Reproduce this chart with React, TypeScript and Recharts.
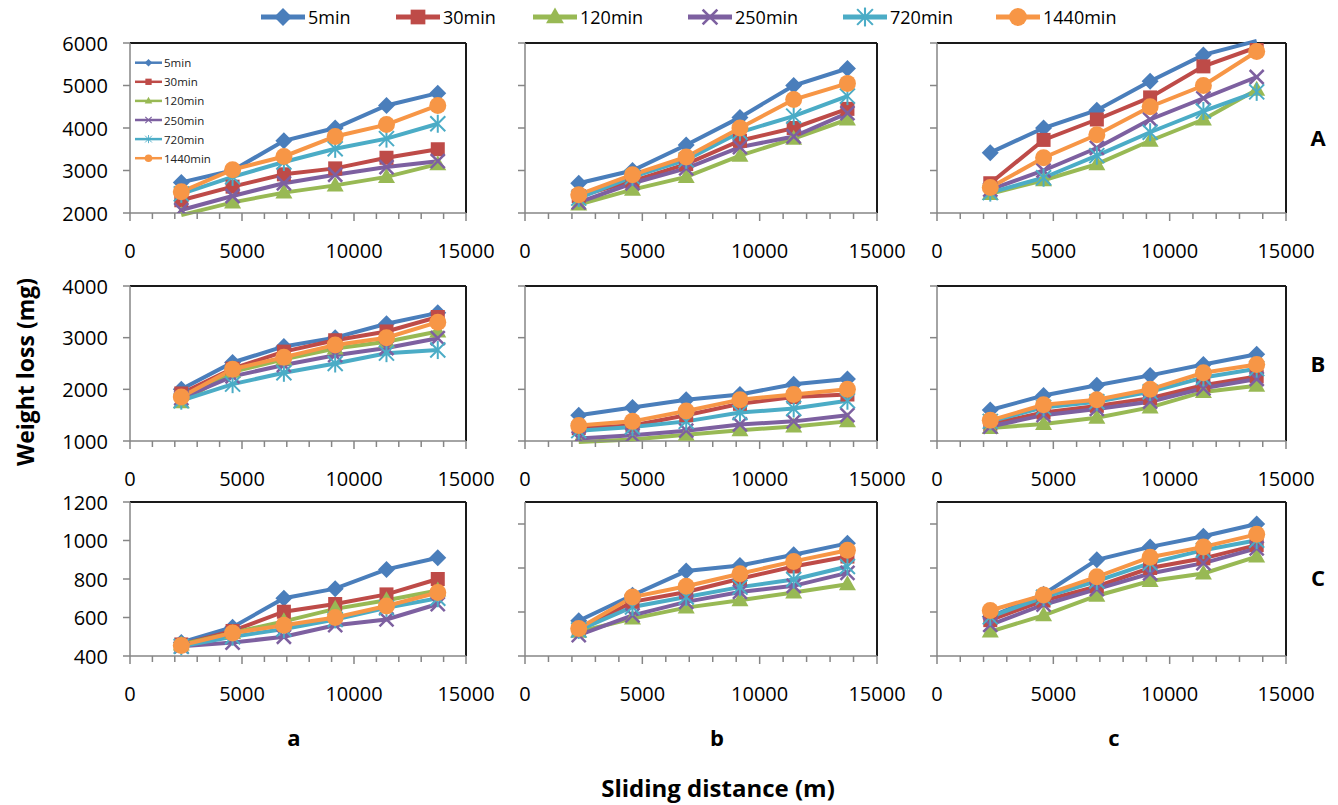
import React from "react";
import { LineChart, Line, XAxis, YAxis, ReferenceLine } from "recharts";

// sliding distance (m) at which each run was weighed
const DIST = [2290, 4580, 6870, 9160, 11450, 13740];
const SERIES = ["5min", "30min", "120min", "250min", "720min", "1440min"];
const COLORS = ["#4A7EBB", "#BE4B48", "#98B954", "#7D60A0", "#4BACC6", "#F79646"];
const SHAPES = ["diamond", "square", "triangle", "cross", "star", "circle"];
const X_TICKS = [0, 1000, 2000, 3000, 4000, 5000, 6000, 7000, 8000, 9000, 10000, 11000, 12000, 13000, 14000, 15000];

// weight loss (mg), one row per series in SERIES order
const A_a = [
  [2720, 3000, 3700, 4000, 4530, 4820],
  [2300, 2620, 2910, 3050, 3300, 3500],
  [1950, 2250, 2480, 2650, 2850, 3150],
  [2070, 2400, 2700, 2900, 3080, 3220],
  [2450, 2850, 3200, 3510, 3750, 4100],
  [2500, 3020, 3330, 3800, 4080, 4530],
];
const A_b = [
  [2700, 3000, 3600, 4250, 5000, 5400],
  [2400, 2750, 3150, 3700, 4000, 4450],
  [2200, 2550, 2850, 3350, 3750, 4200],
  [2250, 2700, 3050, 3550, 3800, 4350],
  [2350, 2850, 3250, 3900, 4280, 4750],
  [2430, 2900, 3320, 4000, 4670, 5050],
];
const A_c = [
  [3420, 4000, 4420, 5100, 5720, 6050],
  [2700, 3720, 4200, 4720, 5450, 5900],
  [2450, 2770, 3150, 3700, 4200, 4900],
  [2550, 3000, 3530, 4200, 4700, 5200],
  [2480, 2830, 3350, 3900, 4400, 4850],
  [2600, 3300, 3840, 4500, 5000, 5800],
];
const B_a = [
  [2000, 2520, 2830, 3000, 3270, 3480],
  [1920, 2400, 2730, 2950, 3120, 3400],
  [1750, 2340, 2580, 2790, 2920, 3120],
  [1830, 2250, 2470, 2660, 2800, 2990],
  [1780, 2100, 2320, 2500, 2700, 2760],
  [1850, 2390, 2620, 2860, 3000, 3300],
];
const B_b = [
  [1500, 1650, 1800, 1900, 2100, 2200],
  [1250, 1300, 1500, 1720, 1850, 1900],
  [980, 1030, 1120, 1210, 1280, 1380],
  [1050, 1110, 1200, 1320, 1380, 1500],
  [1200, 1270, 1380, 1550, 1630, 1780],
  [1300, 1380, 1580, 1800, 1900, 2000],
];
const B_c = [
  [1600, 1880, 2080, 2270, 2480, 2680],
  [1330, 1550, 1680, 1830, 2080, 2250],
  [1250, 1330, 1450, 1650, 1950, 2070],
  [1280, 1500, 1620, 1760, 2020, 2200],
  [1380, 1650, 1760, 1950, 2230, 2400],
  [1400, 1700, 1800, 2000, 2320, 2480],
];
const C_a = [
  [470, 550, 700, 750, 850, 910],
  [460, 530, 630, 670, 720, 800],
  [460, 520, 580, 645, 690, 740],
  [450, 470, 500, 560, 590, 670],
  [450, 500, 540, 590, 650, 700],
  [455, 520, 560, 600, 660, 730],
];
const C_b = [
  [560, 676, 786, 811, 860, 912],
  [518, 646, 691, 751, 807, 852],
  [510, 570, 620, 653, 689, 726],
  [495, 585, 646, 691, 719, 778],
  [518, 623, 668, 713, 748, 807],
  [525, 668, 717, 774, 830, 881],
];
const C_c = [
  [578, 681, 837, 896, 944, 1000],
  [563, 652, 716, 800, 844, 904],
  [511, 585, 674, 741, 775, 852],
  [541, 633, 704, 775, 822, 889],
  [578, 667, 741, 822, 881, 926],
  [607, 677, 760, 849, 896, 953],
];

const Y_A = [2000, 3000, 4000, 5000, 6000];
const Y_B = [1000, 2000, 3000, 4000];
const Y_C = [400, 600, 800, 1000, 1200];
const Y_C2 = [400, 600, 800, 1000];

const FONT = "'Open Sans', sans-serif";
const AXIS = "#868686";

function Marker({ shape, cx, cy, color, s = 1 }: any) {
  switch (shape) {
    case "diamond": {
      const h = 8.5 * s;
      return <polygon points={`${cx},${cy - h} ${cx + h},${cy} ${cx},${cy + h} ${cx - h},${cy}`} fill={color} />;
    }
    case "square": {
      const h = 7 * s;
      return <rect x={cx - h} y={cy - h} width={2 * h} height={2 * h} fill={color} />;
    }
    case "triangle":
      return (
        <polygon
          points={`${cx},${cy - 9 * s} ${cx + 8.5 * s},${cy + 6 * s} ${cx - 8.5 * s},${cy + 6 * s}`}
          fill={color}
        />
      );
    case "cross": {
      const h = 7 * s;
      return (
        <g stroke={color} strokeWidth={2.5 * s}>
          <line x1={cx - h} y1={cy - h} x2={cx + h} y2={cy + h} />
          <line x1={cx - h} y1={cy + h} x2={cx + h} y2={cy - h} />
        </g>
      );
    }
    case "star": {
      const h = 7.5 * s;
      return (
        <g stroke={color} strokeWidth={2 * s}>
          <line x1={cx - h} y1={cy - h} x2={cx + h} y2={cy + h} />
          <line x1={cx - h} y1={cy + h} x2={cx + h} y2={cy - h} />
          <line x1={cx} y1={cy - h * 1.2} x2={cx} y2={cy + h * 1.2} />
        </g>
      );
    }
    default:
      return <circle cx={cx} cy={cy} r={8.5 * s} fill={color} />;
  }
}

const makeDot = (k: number) => (p: any) => {
  if (p.cx == null || p.cy == null) return <g key={`d${k}-${p.index}`} />;
  return <Marker key={`d${k}-${p.index}`} shape={SHAPES[k]} cx={p.cx} cy={p.cy} color={COLORS[k]} />;
};

const XTick = (p: any) => {
  const v = p.payload.value;
  const major = v % 5000 === 0;
  return (
    <g>
      <line x1={p.x} x2={p.x} y1={p.y} y2={p.y + (major ? 8 : 6)} stroke={AXIS} strokeWidth={1.5} />
      {major && (
        <text x={p.x} y={p.y + 37} textAnchor="middle" dominantBaseline="central" fontFamily={FONT} fontSize={20} fill="#000">
          {v}
        </text>
      )}
    </g>
  );
};

const makeYTick = (labels: boolean) => (p: any) => (
  <g>
    <line x1={p.x - 7} x2={p.x} y1={p.y} y2={p.y} stroke={AXIS} strokeWidth={1.5} />
    {labels && (
      <text x={p.x - 22} y={p.y} textAnchor="end" dominantBaseline="central" fontFamily={FONT} fontSize={20} fill="#000">
        {p.payload.value}
      </text>
    )}
  </g>
);

const ML = 90;
const MT = 14;
const MR = 42;
const XH = 52;

function Panel({ data, left, top, width, height, ticks, max, labels }: any) {
  const rows = DIST.map((d, i) => {
    const r: any = { d };
    data.forEach((s: number[], k: number) => (r["s" + k] = s[i]));
    return r;
  });
  return (
    <div style={{ position: "absolute", left: left - ML, top: top - MT }}>
      <LineChart width={width + ML + MR} height={height + MT + XH} data={rows} margin={{ top: MT, right: MR, left: 0, bottom: 0 }}>
        <XAxis
          dataKey="d"
          type="number"
          domain={[0, 15000]}
          ticks={X_TICKS}
          interval={0}
          height={XH}
          tickSize={0}
          tickMargin={0}
          axisLine={{ stroke: AXIS, strokeWidth: 1.5 }}
          tick={XTick}
          allowDataOverflow
        />
        <YAxis
          type="number"
          domain={[ticks[0], max]}
          ticks={ticks}
          interval={0}
          width={ML}
          tickSize={0}
          tickMargin={0}
          axisLine={{ stroke: AXIS, strokeWidth: 1.5 }}
          tick={makeYTick(labels)}
          allowDataOverflow
        />
        <ReferenceLine y={max} stroke="#1a1a1a" strokeWidth={2} />
        <ReferenceLine x={15000} stroke="#1a1a1a" strokeWidth={2} />
        {SERIES.map((name, k) => (
          <Line
            key={name}
            dataKey={"s" + k}
            name={name}
            stroke={COLORS[k]}
            strokeWidth={4}
            dot={makeDot(k)}
            activeDot={false}
            isAnimationActive={false}
          />
        ))}
      </LineChart>
    </div>
  );
}

const COLS = [
  { x: 130, w: 336 },
  { x: 525, w: 352 },
  { x: 937, w: 349 },
];
const ROWS = [
  { y: 43, h: 170 },
  { y: 286, h: 155 },
  { y: 502, h: 154 },
];

const PANELS = [
  { data: A_a, r: 0, c: 0, ticks: Y_A, max: 6000 },
  { data: A_b, r: 0, c: 1, ticks: Y_A, max: 6000 },
  { data: A_c, r: 0, c: 2, ticks: Y_A, max: 6000 },
  { data: B_a, r: 1, c: 0, ticks: Y_B, max: 4000 },
  { data: B_b, r: 1, c: 1, ticks: Y_B, max: 4000 },
  { data: B_c, r: 1, c: 2, ticks: Y_B, max: 4000 },
  { data: C_a, r: 2, c: 0, ticks: Y_C, max: 1200 },
  { data: C_b, r: 2, c: 1, ticks: Y_C2, max: 1100 },
  { data: C_c, r: 2, c: 2, ticks: Y_C2, max: 1100 },
];

const LEGEND_X = [283, 418, 555, 710, 865, 1018];

export default function App() {
  return (
    <div style={{ position: "absolute", left: 0, top: 0, width: 1338, height: 805, background: "#fff", overflow: "hidden" }}>
      <style>{`.recharts-line[clip-path], .recharts-line [clip-path] { clip-path: none !important; }`}</style>
      {PANELS.map((p, i) => (
        <Panel
          key={i}
          data={p.data}
          left={COLS[p.c].x}
          top={ROWS[p.r].y}
          width={COLS[p.c].w}
          height={ROWS[p.r].h}
          ticks={p.ticks}
          max={p.max}
          labels={p.c === 0}
        />
      ))}
      <svg width={1338} height={805} style={{ position: "absolute", left: 0, top: 0, pointerEvents: "none" }}>
        {/* top legend */}
        {SERIES.map((name, k) => (
          <g key={name}>
            <line x1={LEGEND_X[k] - 22} x2={LEGEND_X[k] + 22} y1={17} y2={17} stroke={COLORS[k]} strokeWidth={5} />
            <Marker shape={SHAPES[k]} cx={LEGEND_X[k]} cy={17} color={COLORS[k]} s={1.05} />
            <text x={LEGEND_X[k] + 25} y={17} dominantBaseline="central" fontFamily={FONT} fontSize={18} fill="#000">
              {name}
            </text>
          </g>
        ))}
        {/* small legend inside panel A-a */}
        {SERIES.map((name, k) => {
          const y = 62.7 + k * 19.1;
          return (
            <g key={"in" + name}>
              <line x1={135} x2={162} y1={y} y2={y} stroke={COLORS[k]} strokeWidth={2.5} />
              <Marker shape={SHAPES[k]} cx={148.5} cy={y} color={COLORS[k]} s={0.45} />
              <text x={164} y={y} dominantBaseline="central" fontFamily={FONT} fontSize={11.5} fill="#222">
                {name}
              </text>
            </g>
          );
        })}
        {["A", "B", "C"].map((t, i) => (
          <text key={t} x={1318} y={[137, 363, 577][i]} textAnchor="middle" dominantBaseline="central" fontFamily={FONT} fontWeight="bold" fontSize={22}>
            {t}
          </text>
        ))}
        {["a", "b", "c"].map((t, i) => (
          <text key={t} x={[294, 717, 1114][i]} y={737} textAnchor="middle" dominantBaseline="central" fontFamily={FONT} fontWeight="bold" fontSize={22}>
            {t}
          </text>
        ))}
        <text x={718} y={787} textAnchor="middle" dominantBaseline="central" fontFamily={FONT} fontWeight="bold" fontSize={24}>
          Sliding distance (m)
        </text>
        <text
          x={25}
          y={372}
          transform="rotate(-90 25 372)"
          textAnchor="middle"
          dominantBaseline="central"
          fontFamily={FONT}
          fontWeight="bold"
          fontSize={23}
        >
          Weight loss (mg)
        </text>
      </svg>
    </div>
  );
}
